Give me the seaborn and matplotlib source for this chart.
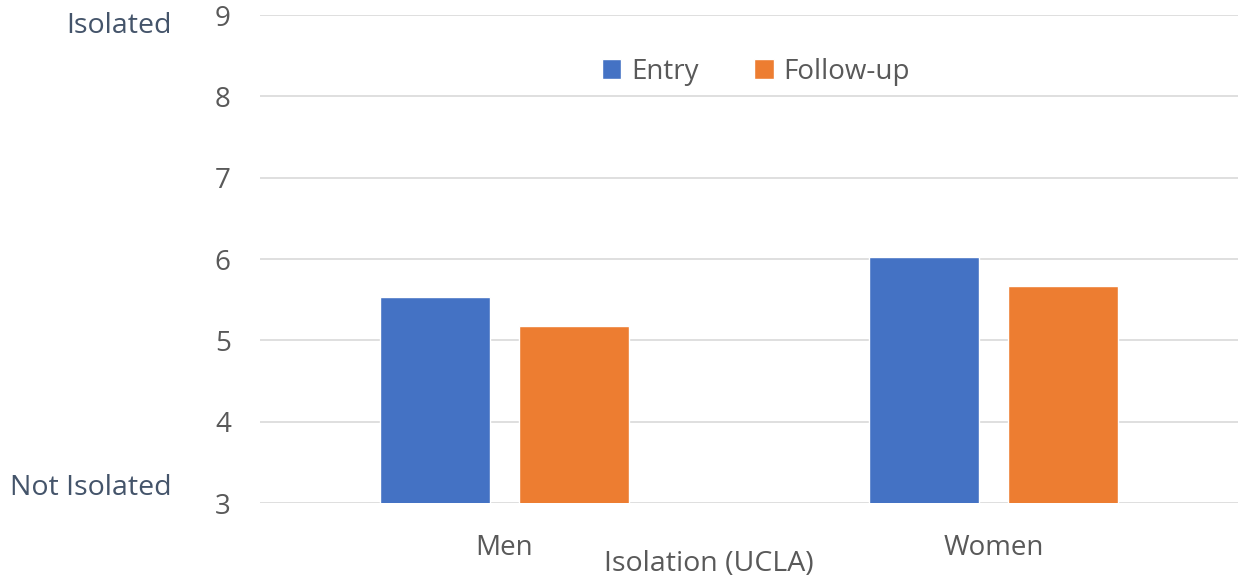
import pandas as pd
import seaborn as sns
import matplotlib.pyplot as plt
import matplotlib.transforms as mtransforms

# values
groups = ["Men", "Women"]
times = ["Entry", "Follow-up"]
entry_vals = [5.53, 6.02]
followup_vals = [5.18, 5.67]
y_ticks = [3, 4, 5, 6, 7, 8, 9]

df = pd.DataFrame({
    "group": groups * 2,
    "time": [times[0]] * 2 + [times[1]] * 2,
    "score": entry_vals + followup_vals,
})

sns.set_style("white")
plt.rcParams["font.family"] = ["Open Sans", "DejaVu Sans"]

fig = plt.figure(figsize=(12.41, 5.8), dpi=100)
ax = fig.add_axes([260 / 1241, 1 - 503 / 580, 978 / 1241, 488 / 580])

sns.barplot(data=df, x="group", y="score", hue="time", order=groups, hue_order=times,
            palette=["#4472C4", "#ED7D31"], width=0.57, gap=0.21, ax=ax, saturation=1)

ax.set_ylim(3, 9)
ax.set_yticks(y_ticks)
ax.set_xlim(-0.5, 1.5)
ax.grid(axis="y", color="#D9D9D9", linewidth=1.2)
ax.set_axisbelow(True)
for s in ax.spines.values():
    s.set_visible(False)
ax.tick_params(axis="both", length=0, labelsize=20, colors="#595959")
ax.tick_params(axis="x", pad=22)
ax.tick_params(axis="y", pad=21)
ax.set_xlabel("")
ax.set_ylabel("")

# x label sits a bit left of the axis centre
ax.text(449 / 978, -0.126, "Isolation (UCLA)", transform=ax.transAxes,
        ha="center", va="center", fontsize=20.5, color="#595959")

# end labels on the y axis
trans = mtransforms.blended_transform_factory(fig.transFigure, ax.transData)
ax.text(172 / 1241, 8.86, "Isolated", transform=trans, ha="right", va="center",
        fontsize=20.5, color="#44546A")
ax.text(172 / 1241, 3.19, "Not Isolated", transform=trans, ha="right", va="center",
        fontsize=20.5, color="#44546A")

ax.legend(loc="center", bbox_to_anchor=(0.507, 0.884), ncol=2, frameon=False,
          fontsize=20, handlelength=0.7, handleheight=0.7, handletextpad=0.35,
          columnspacing=2.0, labelcolor="#595959")

fig.savefig("out.png", dpi=100)
